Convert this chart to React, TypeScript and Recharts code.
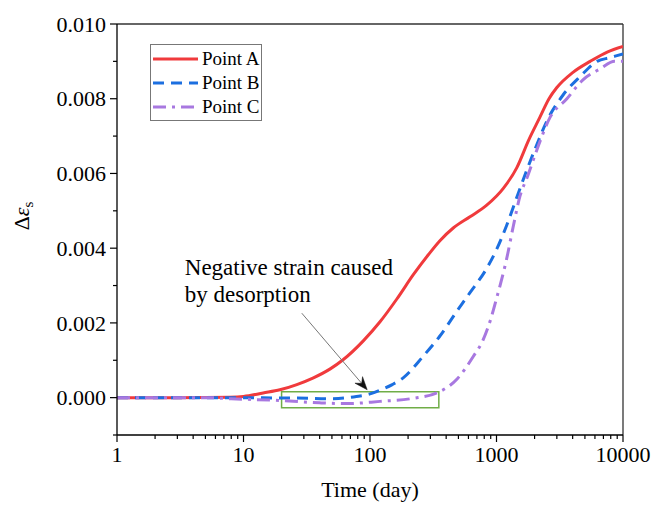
import React from "react";
import { LineChart, Line, XAxis, YAxis, Legend, ReferenceArea, ReferenceLine } from "recharts";

const FONT = "'Liberation Serif', 'Times New Roman', serif";

const aDays = [1, 2, 3, 5, 7.8, 10, 14.3, 19.4, 26.4, 35.7, 48.5, 61.6, 88.5, 120, 163, 220, 290, 357, 455, 617, 837, 1132, 1445, 1800, 2200, 2600, 3000, 4000, 5500, 7500, 10000];
const aStrain = [0, 0, 0, 0.000005, 0.00001, 0.00003, 0.000125, 0.00021, 0.00035, 0.00053, 0.00077, 0.00102, 0.00152, 0.00203, 0.00264, 0.00329, 0.00383, 0.0042, 0.00454, 0.00484, 0.00515, 0.0056, 0.00615, 0.0069, 0.0075, 0.008, 0.0083, 0.0087, 0.009, 0.00925, 0.0094];

const bDays = [1, 5, 10, 20, 26, 48, 78, 100, 120, 150, 183, 262, 357, 488, 617, 837, 1000, 1200, 1450, 1750, 2100, 2500, 3360, 4600, 6240, 7900, 10000];
const bStrain = [0, 0, 0, -0.00001, -0.00001, -0.00003, 0.00003, 0.0001, 0.0002, 0.00035, 0.00053, 0.0011, 0.00165, 0.00232, 0.00281, 0.00346, 0.00396, 0.0046, 0.00537, 0.00612, 0.0068, 0.0074, 0.0081, 0.0086, 0.009, 0.0091, 0.0092];

const cDays = [1, 5, 8, 20, 40, 66, 120, 218, 340, 488, 655, 785, 900, 1000, 1200, 1360, 1535, 1750, 2070, 2650, 3600, 4800, 6600, 8600, 10000];
const cStrain = [0, 0, -0.00003, -0.00008, -0.00014, -0.00016, -0.0001, -0.00002, 0.00013, 0.0005, 0.0011, 0.00155, 0.0021, 0.00265, 0.0037, 0.0046, 0.0054, 0.0059, 0.0066, 0.0075, 0.008, 0.0085, 0.0088, 0.009, 0.009];

const seriesNames = ["Point A", "Point B", "Point C"];
const seriesColors = ["#F03A3C", "#1C6FE0", "#A878E0"];
const seriesDash = ["", "11 7", "13 6 3 6"];

const xMajor = [1, 10, 100, 1000, 10000];
const xTicks: number[] = [];
xMajor.slice(0, 4).forEach((d) => {
  for (let k = 1; k <= 9; k++) xTicks.push(d * k);
});
xTicks.push(10000);

const yTicks = [-0.001, 0, 0.001, 0.002, 0.003, 0.004, 0.005, 0.006, 0.007, 0.008, 0.009, 0.01];

const boxX = [20, 350];
const boxY = [-0.00027, 0.00016];
const arrowFrom = { x: 28.9, y: 0.00226 };
const arrowTo = { x: 95, y: 0.00021 };
const noteLines = ["Negative strain caused", "by desorption"];

const toRows = (days: number[], vals: number[]) => days.map((t, i) => ({ t, v: vals[i] }));
const seriesData = [toRows(aDays, aStrain), toRows(bDays, bStrain), toRows(cDays, cStrain)];

const XTick = (props: any) => {
  const { x, y, payload } = props;
  const v = payload.value;
  const major = xMajor.includes(v);
  return (
    <g>
      <line x1={x} x2={x} y1={y} y2={y + (major ? 7 : 4)} stroke="#000" strokeWidth={1.2} />
      {major && (
        <text x={x} y={y + 27} textAnchor="middle" fontFamily={FONT} fontSize={22} fill="#000">
          {String(v)}
        </text>
      )}
    </g>
  );
};

const YTick = (props: any) => {
  const { x, y, payload } = props;
  const v = payload.value;
  const n = Math.round(v * 1000);
  const major = n >= 0 && n % 2 === 0;
  return (
    <g>
      <line x1={x - (major ? 7 : 4)} x2={x} y1={y} y2={y} stroke="#000" strokeWidth={1.2} />
      {major && (
        <text x={x - 11} y={y} dy="0.35em" textAnchor="end" fontFamily={FONT} fontSize={22} fill="#000">
          {v.toFixed(3)}
        </text>
      )}
    </g>
  );
};

const YLabel = () => (
  <text transform="rotate(-90 29 216)" x={29} y={216} textAnchor="middle" fontFamily={FONT} fontSize={22} fill="#000">
    <tspan>Δ</tspan>
    <tspan fontStyle="italic">ε</tspan>
    <tspan fontSize={15} dy={4}>s</tspan>
  </text>
);

const ArrowNote = (props: any) => {
  const { x1, y1, x2, y2 } = props;
  const ang = Math.atan2(y2 - y1, x2 - x1);
  const L = 13;
  const W = 5;
  const bx = x2 - L * Math.cos(ang);
  const by = y2 - L * Math.sin(ang);
  const nx = x2 - L * 0.65 * Math.cos(ang);
  const ny = y2 - L * 0.65 * Math.sin(ang);
  const px = -Math.sin(ang);
  const py = Math.cos(ang);
  const pts = `${x2},${y2} ${bx + W * px},${by + W * py} ${nx},${ny} ${bx - W * px},${by - W * py}`;
  return (
    <g>
      <line x1={x1} y1={y1} x2={nx} y2={ny} stroke="#777" strokeWidth={1} />
      <polygon points={pts} fill="#111" stroke="#111" strokeWidth={0.5} />
      <text x={x1 - 117} y={y1 - 38.5} fontFamily={FONT} fontSize={23} fill="#000">
        {noteLines[0]}
      </text>
      <text x={x1 - 117} y={y1 - 11.5} fontFamily={FONT} fontSize={23} fill="#000">
        {noteLines[1]}
      </text>
    </g>
  );
};

const LegendBox = () => (
  <div
    style={{
      border: "1px solid #777",
      background: "#fff",
      width: 110,
      height: 73,
      boxSizing: "content-box",
      paddingTop: 2,
      fontFamily: FONT,
      fontSize: 19,
      color: "#000",
    }}
  >
    {seriesNames.map((name, i) => (
      <div key={name} style={{ display: "flex", alignItems: "center", height: 24, lineHeight: "24px" }}>
        <svg width={48} height={24} style={{ display: "block" }}>
          <line x1={2} x2={47} y1={12} y2={12} stroke={seriesColors[i]} strokeWidth={3} strokeDasharray={seriesDash[i]} />
        </svg>
        <span style={{ marginLeft: 3, whiteSpace: "nowrap" }}>{name}</span>
      </div>
    ))}
  </div>
);

export default function App() {
  return (
    <div style={{ position: "absolute", left: 0, top: 0, background: "#fff" }}>
      <LineChart width={651} height={507} margin={{ top: 24, right: 28, bottom: 0, left: 0 }}>
        <XAxis
          dataKey="t"
          type="number"
          scale="log"
          domain={[1, 10000]}
          allowDataOverflow
          ticks={xTicks}
          interval={0}
          tickSize={0}
          tickMargin={0}
          tick={<XTick />}
          height={72}
          axisLine={{ stroke: "#000", strokeWidth: 1.3 }}
          label={{ value: "Time (day)", position: "insideBottom", offset: 10, fontFamily: FONT, fontSize: 22, fill: "#000" }}
        />
        <YAxis
          type="number"
          domain={[-0.001, 0.01]}
          allowDataOverflow
          ticks={yTicks}
          interval={0}
          tickSize={0}
          tickMargin={0}
          tick={<YTick />}
          width={117}
          axisLine={{ stroke: "#000", strokeWidth: 1.3 }}
          label={<YLabel />}
        />
        <ReferenceLine y={0.01} stroke="#333" strokeWidth={1.3} />
        <ReferenceLine x={10000} stroke="#333" strokeWidth={1.3} />
        <ReferenceArea x1={boxX[0]} x2={boxX[1]} y1={boxY[0]} y2={boxY[1]} fill="none" fillOpacity={0} stroke="#70AD47" strokeWidth={1.5} />
        {seriesData.map((d, i) => (
          <Line
            key={seriesNames[i]}
            data={d}
            dataKey="v"
            name={seriesNames[i]}
            type="monotone"
            stroke={seriesColors[i]}
            strokeWidth={3}
            strokeDasharray={seriesDash[i] || undefined}
            dot={false}
            activeDot={false}
            isAnimationActive={false}
          />
        ))}
        <ReferenceLine
          segment={[arrowFrom, arrowTo]}
          stroke="#777"
          shape={(p: any) => <ArrowNote {...p} />}
        />
        <Legend
          layout="vertical"
          align="center"
          verticalAlign="middle"
          content={<LegendBox />}
          wrapperStyle={{ left: 150, top: 44, width: "auto", height: "auto" }}
        />
      </LineChart>
    </div>
  );
}
